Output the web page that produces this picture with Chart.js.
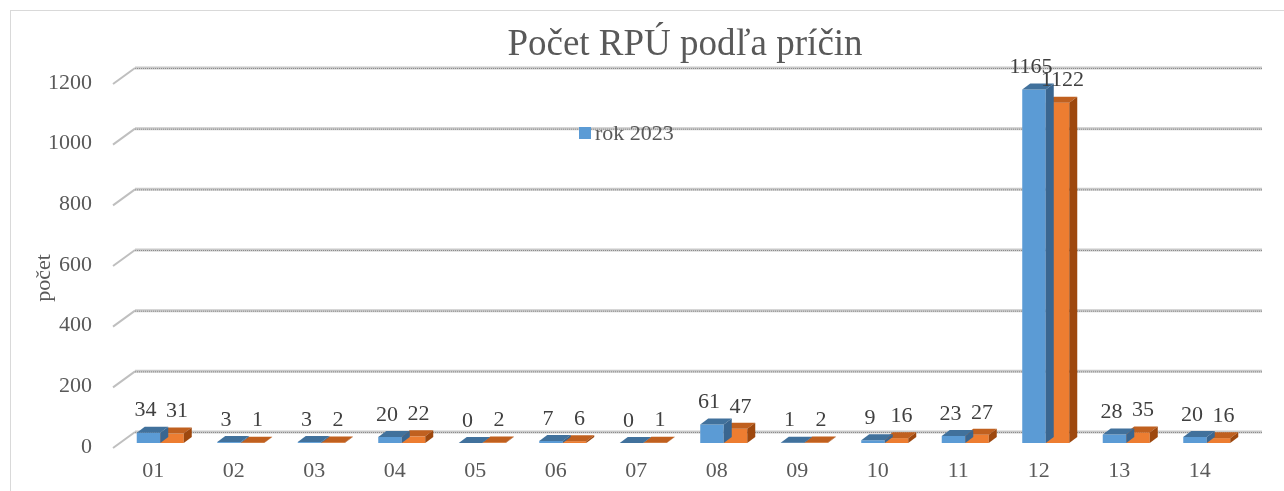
<!DOCTYPE html>
<html>
<head>
<meta charset="utf-8">
<script src="https://cdn.jsdelivr.net/npm/chart.js@4/dist/chart.umd.min.js"></script>
<style>
  html, body { margin: 0; padding: 0; background: #fff; }
  #wrap { position: relative; width: 1284px; height: 491px; }
</style>
</head>
<body>
<div id="wrap"><canvas id="chart" width="1284" height="491"></canvas></div>
<script>
// ---- data ----
const categories = ['01', '02', '03', '04', '05', '06', '07', '08', '09', '10', '11', '12', '13', '14'];
const rok2023 = [34, 3, 3, 20, 0, 7, 0, 61, 1, 9, 23, 1165, 28, 20];
const rok2024 = [31, 1, 2, 22, 2, 6, 1, 47, 2, 16, 27, 1122, 35, 16];
const seriesNames = ['rok 2023', 'rok 2024'];
const yMin = 0, yMax = 1200, yStep = 200;

const titleText = 'Počet RPÚ podľa príčin';
const yTitle = 'počet';

const FONT = "'Liberation Serif', 'Times New Roman', serif";
const GRAY = '#595959';

// 3D look: bar depth and wall offsets, relative to the bar plane
const DX = 8, DY = 6;
const FRONT = { x: -5, y: 5 };
const BACK = { x: 15, y: -11 };

const faces = [
  { front: '#5b9bd5', top: '#41719c', side: '#3a6690' },
  { front: '#ed7d31', top: '#c0601f', side: '#9e480e' }
];

const pseudo3d = {
  id: 'pseudo3d',
  beforeDraw(chart) {
    const ctx = chart.ctx;
    ctx.save();
    ctx.strokeStyle = '#d9d9d9';
    ctx.lineWidth = 1;
    ctx.strokeRect(10.5, 10.5, 1300, 500);
    ctx.restore();
  },
  beforeDatasetsDraw(chart) {
    const ctx = chart.ctx;
    const { left, right } = chart.chartArea;
    const ys = chart.scales.y;
    ctx.save();
    ys.ticks.forEach(t => {
      const y = ys.getPixelForValue(t.value);
      // back wall gridline
      ctx.strokeStyle = '#c9c9c9';
      ctx.lineWidth = 3;
      ctx.beginPath();
      ctx.moveTo(left + BACK.x, y + BACK.y);
      ctx.lineTo(right + BACK.x, y + BACK.y);
      ctx.stroke();
      ctx.strokeStyle = '#8c8c8c';
      ctx.lineWidth = 1;
      ctx.setLineDash([1, 1]);
      ctx.beginPath();
      ctx.moveTo(left + BACK.x, y + BACK.y + 0.5);
      ctx.lineTo(right + BACK.x, y + BACK.y + 0.5);
      ctx.stroke();
      ctx.setLineDash([]);
      // side wall diagonal
      ctx.strokeStyle = '#bfbfbf';
      ctx.lineWidth = 2;
      ctx.beginPath();
      ctx.moveTo(left + FRONT.x - 2, y + FRONT.y);
      ctx.lineTo(left + BACK.x, y + BACK.y);
      ctx.stroke();
    });
    ctx.restore();
  },
  afterDatasetDraw(chart, args) {
    const ctx = chart.ctx;
    const c = faces[args.index];
    ctx.save();
    args.meta.data.forEach(el => {
      const p = el.getProps(['x', 'y', 'base', 'width'], true);
      const l = p.x - p.width / 2, r = p.x + p.width / 2;
      const top = Math.min(p.y, p.base), base = Math.max(p.y, p.base);
      // top face
      ctx.fillStyle = c.top;
      ctx.beginPath();
      ctx.moveTo(l, top);
      ctx.lineTo(r, top);
      ctx.lineTo(r + DX, top - DY);
      ctx.lineTo(l + DX, top - DY);
      ctx.closePath();
      ctx.fill();
      // side face
      ctx.fillStyle = c.side;
      ctx.beginPath();
      ctx.moveTo(r, top);
      ctx.lineTo(r + DX, top - DY);
      ctx.lineTo(r + DX, base - DY);
      ctx.lineTo(r, base);
      ctx.closePath();
      ctx.fill();
    });
    ctx.restore();
  },
  afterDatasetsDraw(chart) {
    const ctx = chart.ctx;
    ctx.save();
    // data labels
    ctx.font = '22px ' + FONT;
    ctx.fillStyle = '#404040';
    ctx.textAlign = 'center';
    ctx.textBaseline = 'middle';
    chart.data.datasets.forEach((ds, i) => {
      const meta = chart.getDatasetMeta(i);
      meta.data.forEach((el, j) => {
        const p = el.getProps(['x', 'y'], true);
        const shift = i === 0 ? -3 : 5;
        ctx.fillText(String(ds.data[j]), p.x + shift, p.y - 22);
      });
    });
    // title
    ctx.font = '37px ' + FONT;
    ctx.fillStyle = GRAY;
    ctx.fillText(titleText, 685, 45);
    // legend (only first series is shown in the reference)
    ctx.fillStyle = faces[0].front;
    ctx.fillRect(579, 127, 12, 12);
    ctx.font = '22px ' + FONT;
    ctx.fillStyle = GRAY;
    ctx.textAlign = 'left';
    ctx.fillText(seriesNames[0], 595, 134);
    // y axis title
    ctx.translate(44, 278);
    ctx.rotate(-Math.PI / 2);
    ctx.textAlign = 'center';
    ctx.fillText(yTitle, 0, 0);
    ctx.restore();
  }
};

new Chart(document.getElementById('chart'), {
  type: 'bar',
  data: {
    labels: categories,
    datasets: [
      { label: seriesNames[0], data: rok2023, backgroundColor: faces[0].front, borderWidth: 0 },
      { label: seriesNames[1], data: rok2024, backgroundColor: faces[1].front, borderWidth: 0 }
    ]
  },
  options: {
    responsive: false,
    animation: false,
    events: [],
    categoryPercentage: 0.584,
    barPercentage: 1,
    layout: { padding: { top: 79, left: 0, right: 37, bottom: 0 } },
    plugins: {
      legend: { display: false },
      title: { display: false },
      tooltip: { enabled: false }
    },
    scales: {
      x: {
        grid: { display: false, drawTicks: false },
        border: { display: false },
        afterFit: s => { s.height = 48; },
        ticks: {
          color: GRAY,
          font: { family: FONT, size: 22 },
          padding: 15,
          labelOffset: -7,
          maxRotation: 0
        }
      },
      y: {
        min: yMin,
        max: yMax,
        grid: { display: false, drawTicks: false },
        border: { display: false },
        afterFit: s => { s.width = 120; },
        ticks: {
          stepSize: yStep,
          color: GRAY,
          font: { family: FONT, size: 22 },
          padding: 28,
          labelOffset: 4,
          callback: v => String(v)
        }
      }
    }
  },
  plugins: [pseudo3d]
});
</script>
</body>
</html>
